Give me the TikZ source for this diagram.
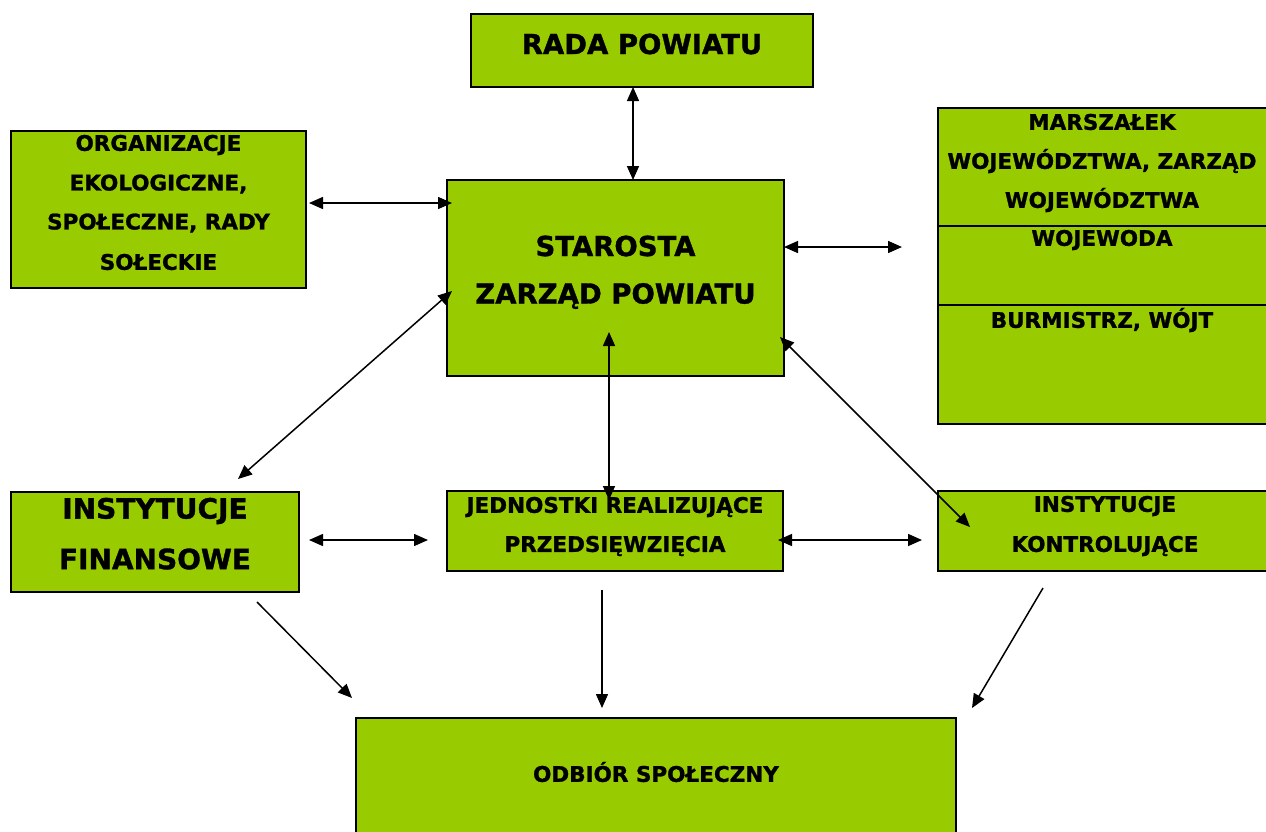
\documentclass[tikz,border=0pt]{standalone}
\usepackage{fontspec}
\setmainfont{DejaVu Sans}[BoldFeatures={FakeBold=1.2}]
\usetikzlibrary{arrows.meta}
\definecolor{boxgreen}{HTML}{99CC00}
\begin{document}
\begin{tikzpicture}[x=1pt,y=-1pt,
  box/.style={draw=black,line width=2pt,fill=boxgreen,inner sep=0pt},
  txt/.style={inner sep=0pt,font=\bfseries\fontsize{21.5}{24}\selectfont},
  bigtxt/.style={inner sep=0pt,font=\bfseries\fontsize{27.5}{30}\selectfont},
  fintxt/.style={inner sep=0pt,font=\bfseries\fontsize{28}{30}\selectfont},
  link/.style={line width=1.5pt,{Triangle[length=14pt,width=12pt]}-{Triangle[length=14pt,width=12pt]}},
  onelink/.style={line width=1.5pt,-{Triangle[length=14pt,width=12pt]}}]
\clip (0,0) rectangle (1266,831);
\fill[white] (0,0) rectangle (1266,831);
% boxes
\node[box,minimum width=342pt,minimum height=73pt] (rada) at (642,50.5) {};
\node[bigtxt] at (642,44) {RADA POWIATU};
\node[box,minimum width=295pt,minimum height=157pt] (org) at (158.5,209.5) {};
\node[txt] at (158.5,145) {ORGANIZACJE};
\node[txt] at (158.5,184) {EKOLOGICZNE,};
\node[txt] at (158.5,223) {SPOŁECZNE, RADY};
\node[txt] at (158.5,262) {SOŁECKIE};
\node[box,minimum width=337pt,minimum height=196pt] (star) at (615.5,278) {};
\node[bigtxt] at (615.5,246) {STAROSTA};
\node[bigtxt] at (615.5,296) {ZARZĄD POWIATU};
\node[box,minimum width=334pt,minimum height=316pt] (right) at (1105,266) {};
\draw[line width=2pt] (938,226) -- (1272,226) (938,305) -- (1272,305);
\node[txt] at (1102,122) {MARSZAŁEK};
\node[txt] at (1102,161) {WOJEWÓDZTWA, ZARZĄD};
\node[txt] at (1102,200) {WOJEWÓDZTWA};
\node[txt] at (1102,240) {WOJEWODA};
\node[txt] at (1102,320) {BURMISTRZ, WÓJT};
\node[box,minimum width=288pt,minimum height=100pt] (fin) at (155,542) {};
\node[fintxt] at (155,511) {INSTYTUCJE};
\node[fintxt] at (155,559) {FINANSOWE};
\node[box,minimum width=336pt,minimum height=80pt] (jed) at (615,531) {};
\node[txt] at (615,507) {JEDNOSTKI REALIZUJĄCE};
\node[txt] at (615,546) {PRZEDSIĘWZIĘCIA};
\node[box,minimum width=334pt,minimum height=80pt] (kon) at (1105,531) {};
\node[txt] at (1105,506) {INSTYTUCJE};
\node[txt] at (1105,546) {KONTROLUJĄCE};
\node[box,minimum width=600pt,minimum height=130pt] (odb) at (656,783) {};
\node[txt] at (656,772) {ODBIÓR SPOŁECZNY};
% connector end points
\coordinate (a1) at (633,87); \coordinate (a2) at (633,180);
\coordinate (b1) at (309,203); \coordinate (b2) at (452,203);
\coordinate (c1) at (784,247); \coordinate (c2) at (902,247);
\coordinate (d1) at (452,291); \coordinate (d2) at (238,479);
\coordinate (e1) at (609,332); \coordinate (e2) at (609,500);
\coordinate (f1) at (780,337); \coordinate (f2) at (970,527);
\coordinate (g1) at (309,540); \coordinate (g2) at (428,540);
\coordinate (h1) at (778,540); \coordinate (h2) at (922,540);
\coordinate (i1) at (257,602); \coordinate (i2) at (352,698);
\coordinate (j1) at (602,590); \coordinate (j2) at (602,708);
\coordinate (k1) at (1043,588); \coordinate (k2) at (972,708);
% connectors
\draw[link] (a1) -- (a2);
\draw[link] (b1) -- (b2);
\draw[link] (c1) -- (c2);
\draw[link] (d1) -- (d2);
\draw[link] (e1) -- (e2);
\draw[link] (f1) -- (f2);
\draw[link] (g1) -- (g2);
\draw[link] (h1) -- (h2);
\draw[onelink] (i1) -- (i2);
\draw[onelink] (j1) -- (j2);
\draw[onelink] (k1) -- (k2);
\end{tikzpicture}
\end{document}
